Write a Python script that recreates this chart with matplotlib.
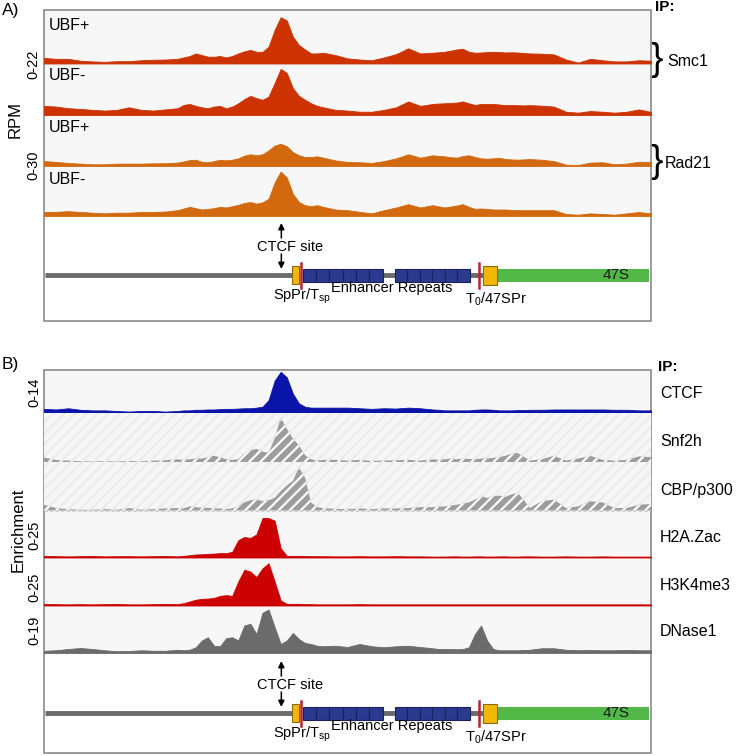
import matplotlib.pyplot as plt
from matplotlib.patches import Rectangle

plt.rcParams['font.family'] = ['Liberation Sans', 'DejaVu Sans']
plt.rcParams['mathtext.fontset'] = 'custom'
plt.rcParams['mathtext.rm'] = 'Liberation Sans'
plt.rcParams['hatch.linewidth'] = 1.6

W, H = 736, 756

# genomic position across the window (0 = left edge, 100 = right edge)
pos = (list(range(0, 23, 2)) + list(range(23, 47)) + list(range(48, 65, 2))
       + list(range(65, 81)) + list(range(82, 101, 2)))

# panel A: cohesin ChIP (RPM)
smc1_ubf_pos = [2.4, 2.0, 2.0, 1.2, 0.9, 0.7, 1.0, 1.0, 1.4, 1.6, 1.7, 2.0,
                2.6, 3.2, 4.3, 3.6, 2.9, 2.9, 3.2, 2.6, 3.2, 4.3, 5.2, 5.8, 5.0, 5.0, 7.2, 14.4, 19.8, 18.4, 11.5, 7.9, 6.0, 4.3, 4.3, 4.6,
                3.6, 2.2, 1.7, 1.4, 2.6, 4.0, 6.5, 4.3, 4.6,
                4.8, 5.0, 5.5, 6.0, 6.3, 5.0, 4.6, 4.7, 4.9, 5.0, 4.9, 4.7, 4.8, 4.7, 4.5, 4.3,
                4.2, 3.9, 1.7, 0.4, 2.0, 1.4, 0.9, 0.9, 1.4, 1.2]
smc1_ubf_neg = [3.9, 3.6, 2.9, 2.6, 2.2, 1.9, 2.2, 3.3, 2.2, 1.9, 2.4, 2.9,
                4.3, 4.7, 3.9, 3.3, 2.9, 3.6, 3.9, 2.9, 3.6, 5.0, 6.8, 8.2, 7.2, 6.5, 7.9, 13.7, 19.7, 18.0, 11.5, 8.2, 6.5, 5.0, 3.9, 3.3,
                2.2, 1.9, 1.4, 1.4, 2.2, 3.3, 5.8, 3.9, 4.7,
                4.9, 5.0, 5.2, 5.3, 5.8, 5.0, 4.3, 4.7, 4.7, 4.7, 4.5, 4.2, 4.3, 4.2, 4.1, 4.2,
                4.0, 3.6, 1.4, 1.0, 1.7, 1.4, 1.0, 1.4, 2.4, 1.3]
rad21_ubf_pos = [2.9, 2.4, 1.8, 1.4, 1.0, 1.0, 1.4, 1.4, 1.4, 1.6, 1.6, 2.0,
                 2.7, 3.5, 3.7, 2.5, 2.2, 2.9, 3.7, 3.3, 3.7, 4.5, 6.1, 6.9, 6.3, 6.9, 9.2, 12.0, 13.1, 11.6, 8.2, 6.3, 5.3, 5.3, 5.7, 4.9,
                 3.3, 2.4, 2.2, 1.8, 2.9, 4.5, 6.9, 4.9, 6.3,
                 6.0, 5.7, 5.2, 4.9, 5.9, 6.3, 5.3, 4.5, 4.3, 4.5, 4.9, 4.1, 3.9, 3.7, 3.9, 4.1,
                 3.7, 2.9, 0.8, 0.6, 2.0, 2.2, 1.0, 1.4, 2.5, 2.4]
rad21_ubf_neg = [2.4, 2.5, 2.9, 2.4, 2.0, 1.6, 2.0, 2.0, 2.4, 2.4, 2.7, 3.5,
                 4.5, 5.5, 4.7, 3.9, 4.3, 4.7, 5.5, 5.1, 5.9, 6.7, 7.8, 8.4, 7.4, 8.2, 10.4, 20.2, 26.7, 23.1, 13.3, 8.4, 6.5, 5.9, 6.5, 5.5,
                 3.9, 3.5, 2.5, 1.6, 3.5, 5.1, 7.1, 5.1, 6.5,
                 5.8, 5.1, 5.7, 6.3, 7.1, 5.5, 4.3, 4.5, 4.3, 3.9, 3.9, 3.9, 3.7, 3.5, 3.5, 3.5,
                 3.5, 3.5, 1.2, 0.8, 1.6, 1.2, 0.8, 1.6, 2.4, 1.6]

# panel B
ctcf = [1.2, 1.0, 1.4, 0.9, 0.7, 0.7, 0.5, 0.3, 0.5, 0.5, 0.3, 0.5,
        0.7, 0.7, 0.9, 0.9, 1.0, 1.0, 1.1, 1.2, 1.2, 1.3, 1.4, 1.4, 1.6, 1.9, 4.1, 10.5, 13.4, 11.6, 6.2, 3.0, 1.9, 1.6, 1.6, 1.6,
        1.6, 1.6, 1.4, 1.2, 1.4, 1.3, 1.6, 1.4, 1.0,
        0.9, 0.7, 0.7, 0.7, 0.7, 0.7, 0.9, 1.0, 1.0, 0.9, 0.7, 0.7, 0.7, 0.8, 0.8, 0.9,
        0.9, 1.0, 1.0, 1.0, 1.0, 1.0, 0.9, 0.9, 0.7, 0.7]
snf2h = [3.6, 1.7, 1.1, 0.6, 0.4, 0.6, 0.4, 0.8, 0.5, 1.1, 1.4, 2.2,
         1.7, 2.2, 2.8, 2.8, 3.9, 5.0, 3.9, 2.2, 1.7, 2.2, 6.7, 9.5, 10.6, 8.4, 7.3, 19.0, 35.8, 26.9, 19.0, 13.4, 5.6, 2.2, 1.1, 1.7,
         1.7, 1.1, 1.7, 0.8, 1.1, 1.4, 1.7, 1.1, 2.2,
         1.7, 2.2, 2.8, 2.2, 2.8, 2.5, 2.2, 2.8, 2.8, 3.4, 3.9, 5.0, 6.7, 7.3, 4.5, 1.1,
         2.2, 5.0, 1.1, 2.8, 5.0, 1.7, 1.1, 1.7, 4.5, 3.9]
cbp_p300 = [4.8, 2.0, 1.1, 0.6, 0.6, 1.1, 0.6, 2.0, 0.6, 1.1, 1.7, 2.0,
            1.7, 3.4, 2.8, 2.2, 2.2, 1.7, 1.7, 1.1, 1.7, 3.4, 6.7, 8.4, 9.0, 7.8, 8.4, 10.4, 16.0, 20.7, 24.4, 35.6, 27.2, 6.7, 2.8, 2.0,
            1.4, 1.1, 1.7, 1.1, 1.7, 1.7, 2.0, 2.8, 2.8,
            3.1, 3.4, 3.9, 4.8, 5.6, 6.7, 9.0, 11.8, 10.4, 11.8, 12.3, 11.2, 13.2, 14.6, 9.0, 2.0,
            7.6, 9.0, 2.0, 3.4, 7.6, 6.7, 2.0, 2.0, 4.8, 5.3]
h2a_zac = [0.9, 0.7, 0.6, 0.7, 0.8, 0.6, 0.7, 0.7, 0.6, 0.7, 0.8, 0.6,
           0.9, 1.2, 1.6, 1.7, 1.9, 2.1, 2.3, 2.3, 3.0, 9.2, 10.9, 10.4, 12.3, 21.0, 21.0, 19.6, 4.9, 0.9, 0.8, 0.9, 0.8, 0.7, 0.7, 0.7,
           0.6, 0.6, 0.7, 0.6, 0.6, 0.7, 0.6, 0.6, 0.5,
           0.5, 0.5, 0.6, 0.6, 0.5, 0.5, 0.6, 0.6, 0.5, 0.5, 0.6, 0.6, 0.5, 0.5, 0.6, 0.6,
           0.5, 0.5, 0.6, 0.5, 0.5, 0.6, 0.5, 0.5, 0.5, 0.5]
h3k4me3 = [0.8, 0.7, 0.6, 0.7, 0.6, 0.7, 0.8, 0.6, 0.6, 0.7, 0.8, 0.7,
           1.2, 2.1, 3.0, 3.5, 3.6, 4.0, 5.0, 5.4, 5.0, 12.5, 18.6, 17.7, 14.8, 19.4, 22.0, 12.5, 2.6, 0.9, 0.8, 0.9, 0.7, 0.7, 0.6, 0.6,
           0.6, 0.6, 0.7, 0.6, 0.6, 0.6, 0.6, 0.6, 0.6,
           0.6, 0.6, 0.6, 0.6, 0.6, 0.6, 0.6, 0.6, 0.6, 0.6, 0.6, 0.6, 0.6, 0.6, 0.6, 0.6,
           0.6, 0.6, 0.6, 0.6, 0.6, 0.6, 0.6, 0.6, 0.6, 0.6]
dnase1 = [0.9, 1.1, 1.6, 2.0, 1.6, 1.1, 0.7, 0.8, 1.1, 0.9, 0.9, 1.3,
          1.1, 1.3, 2.3, 5.0, 6.3, 2.9, 2.7, 5.9, 6.3, 5.0, 11.0, 11.7, 7.6, 16.1, 17.4, 10.3, 3.6, 5.0, 8.0, 5.6, 4.0, 3.6, 2.9, 2.7,
          2.9, 2.4, 3.6, 2.7, 2.3, 2.7, 2.9, 2.4, 1.9,
          1.6, 1.6, 1.6, 1.5, 1.6, 2.3, 7.6, 11.0, 5.0, 1.6, 1.1, 1.1, 1.1, 1.1, 1.2, 1.3,
          1.9, 1.9, 1.3, 1.1, 1.2, 1.1, 1.1, 1.2, 1.1, 1.1]

# rDNA promoter region features, same position units
spacer_line = (0.2, 40.9)
spacer_promoter = (40.8, 42.0)
terminators = [42.3, 71.7]
enhancer_blocks = [(42.6, 55.8), (57.8, 70.1)]
enhancer_units = 6
promoter_47s = (72.3, 74.6)
rrna_47s = (74.6, 99.6)
ctcf_site = 39.1

fig = plt.figure(figsize=(W / 100, H / 100), dpi=100)


def px_axes(x0, y0, x1, y1, **kw):
    return fig.add_axes([x0 / W, 1 - y1 / H, (x1 - x0) / W, (y1 - y0) / H], **kw)


# overlay in pixel coordinates for labels
ov = px_axes(0, 0, W, H)
ov.set_xlim(0, W)
ov.set_ylim(H, 0)
ov.axis('off')

BX0, BX1 = 44, 651


def panel_box(y0, y1, y_tracks):
    ov.add_patch(Rectangle((BX0, y0), BX1 - BX0, y_tracks - y0, fc='#f7f7f7', ec='none', zorder=0))
    ov.add_patch(Rectangle((BX0, y0), BX1 - BX0, y1 - y0, fc='none', ec='#8a8a8a', lw=1.2, zorder=5))


def track(y0, y1, vals, ymax, color, hatched=False):
    ax = px_axes(BX0, y0, BX1, y1)
    ax.set_xlim(0, 100)
    ax.set_ylim(0, ymax)
    ax.axis('off')
    ax.patch.set_alpha(0)
    if hatched:
        bg = Rectangle((0, 0), 100, ymax, fc='#f6f6f6', ec='#ebebeb', hatch='///', lw=0)
        ax.add_patch(bg)
        ax.fill_between(pos, vals, 0, facecolor='#9d9d9d', edgecolor='white', hatch='///', lw=0)
    else:
        ax.fill_between(pos, vals, 0, color=color, lw=0.6)
    return ax


def diagram(y0, y1, yl):
    ax = px_axes(BX0, y0, BX1, y1)
    ax.set_xlim(0, 100)
    ax.set_ylim(y1, y0)
    ax.axis('off')
    ax.patch.set_alpha(0)
    ax.plot(spacer_line, [yl, yl], color='#6a6a6a', lw=3.5, solid_capstyle='butt', zorder=1)
    ax.plot([enhancer_blocks[0][1], enhancer_blocks[1][0]], [yl, yl], color='#6a6a6a', lw=3.5, zorder=1)
    ax.plot([enhancer_blocks[1][1], promoter_47s[0]], [yl, yl], color='#6a6a6a', lw=3.5, zorder=1)
    for a, b in enhancer_blocks:
        step = (b - a) / enhancer_units
        for k in range(enhancer_units):
            ax.add_patch(Rectangle((a + k * step, yl - 6.5), step, 13, fc='#2b3a8f', ec='#1a2258', lw=0.8, zorder=2))
    a, b = spacer_promoter
    ax.add_patch(Rectangle((a, yl - 9), b - a, 18, fc='#f2b705', ec='#8a6a10', lw=0.8, zorder=3))
    a, b = promoter_47s
    ax.add_patch(Rectangle((a, yl - 9.5), b - a, 19, fc='#f2b705', ec='#8a6a10', lw=0.8, zorder=3))
    a, b = rrna_47s
    ax.add_patch(Rectangle((a, yl - 6.5), b - a, 13, fc='#52b848', ec='none', zorder=2))
    for t in terminators:
        ax.plot([t, t], [yl - 12.5, yl + 12.5], color='#b0282e', lw=1.8, zorder=4)
    ax.text(94.2, yl, '47S', fontsize=11, ha='center', va='center', color='#1a1a1a', zorder=5)
    arrow = dict(arrowstyle='-|>', color='black', lw=1.1, mutation_scale=9, shrinkA=0, shrinkB=0)
    ax.annotate('', xy=(ctcf_site, yl - 52), xytext=(ctcf_site, yl - 37), arrowprops=arrow)
    ax.annotate('', xy=(ctcf_site, yl - 6), xytext=(ctcf_site, yl - 21), arrowprops=arrow)
    ax.text(40.5, yl - 28, 'CTCF site', fontsize=10.5, ha='center', va='center')
    ax.text(42.5, yl + 21, 'SpPr/T$_{\\rm sp}$', fontsize=10.5, ha='center', va='center')
    ax.text(57.2, yl + 13, 'Enhancer Repeats', fontsize=10.5, ha='center', va='center')
    ax.text(74.5, yl + 24, 'T$_{\\rm 0}$/47SPr', fontsize=10.5, ha='center', va='center')


# ---------------- panel A ----------------
panel_box(10, 321, 216)
track(12, 63.5, smc1_ubf_pos, 22, '#cc3300')
track(63.5, 115, smc1_ubf_neg, 22, '#cc3300')
track(115, 166, rad21_ubf_pos, 30, '#d2690f')
track(166, 216, rad21_ubf_neg, 30, '#d2690f')
diagram(216, 321, 275)

for y, lab in [(25, 'UBF+'), (76, 'UBF-'), (128, 'UBF+'), (180, 'UBF-')]:
    ov.text(49, y, lab, fontsize=11.5, ha='left', va='center', zorder=6)

ov.text(2, 10, 'A)', fontsize=12.5, ha='left', va='center')
ov.text(33, 64, '0-22', fontsize=10.5, rotation=90, ha='center', va='center')
ov.text(33, 165, '0-30', fontsize=10.5, rotation=90, ha='center', va='center')
ov.text(15, 120, 'RPM', fontsize=12, rotation=90, ha='center', va='center')

ov.text(655, 7, 'IP:', fontsize=11, fontweight='bold', ha='left', va='center')
ov.text(657, 60, '}', fontsize=27, ha='center', va='center')
ov.text(667, 61, 'Smc1', fontsize=11.5, ha='left', va='center')
ov.text(657, 162, '}', fontsize=27, ha='center', va='center')
ov.text(665, 163, 'Rad21', fontsize=11.5, ha='left', va='center')

# ---------------- panel B ----------------
panel_box(370, 753, 653)
track(370, 412.5, ctcf, 14, '#0a14a8')
track(412.5, 462, snf2h, 40, None, hatched=True)
track(462, 510.5, cbp_p300, 40, None, hatched=True)
track(510.5, 557.5, h2a_zac, 25, '#cc0000')
track(557.5, 605.5, h3k4me3, 25, '#cc0000')
track(605.5, 653, dnase1, 19, '#6b6b6b')
ov.plot([BX0, BX1], [510.5, 510.5], color='#cfcfcf', lw=0.8, ls=(0, (3, 2)), zorder=4)
diagram(653, 753, 713)

ov.text(2, 365, 'B)', fontsize=12.5, ha='left', va='center')
ov.text(34, 392, '0-14', fontsize=10.5, rotation=90, ha='center', va='center')
for y in (437, 485):
    ov.text(55, y, '0-40', fontsize=10.5, rotation=90, ha='center', va='center', zorder=6)
    ov.text(73, y, 'RPM', fontsize=10.5, rotation=90, ha='center', va='center', zorder=6)
ov.text(18, 530, 'Enrichment', fontsize=12, rotation=90, ha='center', va='center')
ov.text(34, 535, '0-25', fontsize=10.5, rotation=90, ha='center', va='center')
ov.text(34, 587, '0-25', fontsize=10.5, rotation=90, ha='center', va='center')
ov.text(34, 630, '0-19', fontsize=10.5, rotation=90, ha='center', va='center')

ov.text(658, 367, 'IP:', fontsize=11, fontweight='bold', ha='left', va='center')
for y, lab in [(393, 'CTCF'), (442, 'Snf2h'), (490, 'CBP/p300'), (537, 'H2A.Zac'),
               (585, 'H3K4me3'), (632, 'DNase1')]:
    ov.text(660, y, lab, fontsize=11.5, ha='left', va='center')

fig.savefig('out.png', dpi=100)
